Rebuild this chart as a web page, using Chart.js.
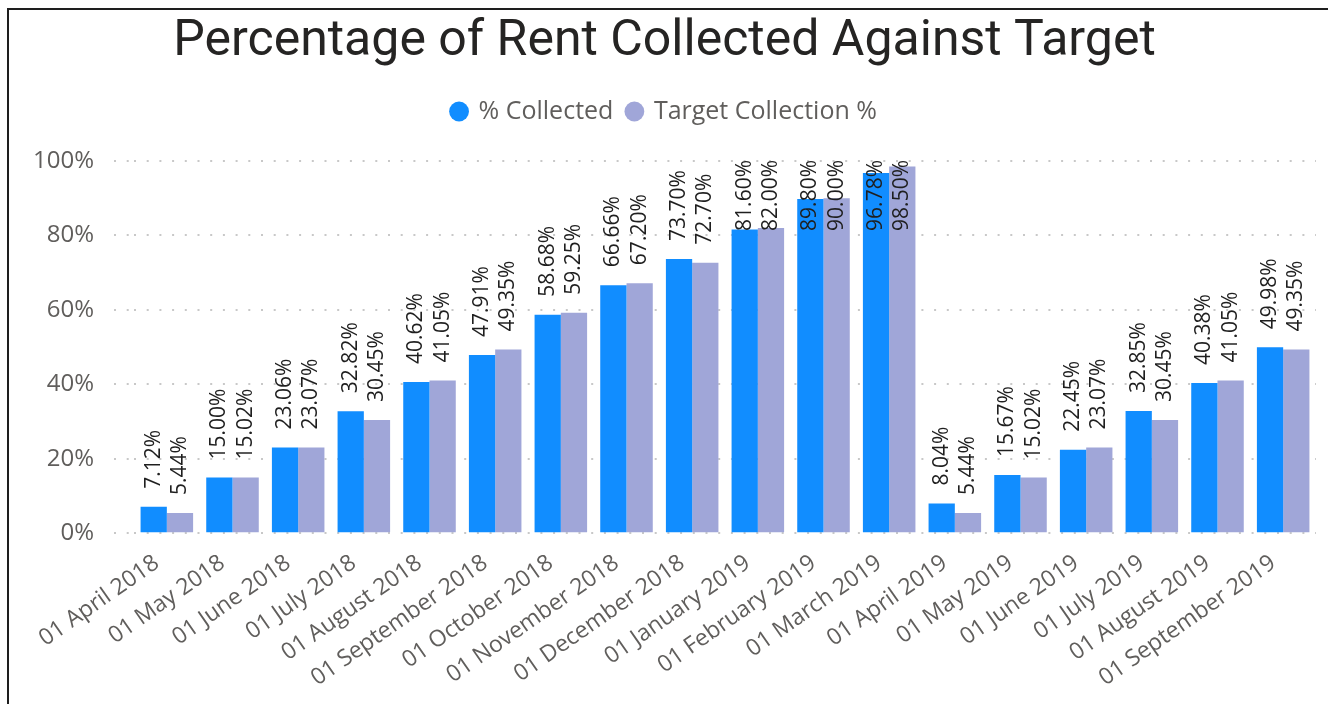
<!DOCTYPE html>
<html>
<head>
<meta charset="utf-8">
<script src="https://cdn.jsdelivr.net/npm/chart.js@4"></script>
<style>
  html, body { margin: 0; padding: 0; background: #fff; overflow: hidden; }
  #wrap { position: relative; width: 1328px; height: 704px; }
  #frame { position: absolute; left: 7px; top: 8px; right: -20px; bottom: -20px;
           border-left: 2px solid #1e1e1e; border-top: 2px solid #1e1e1e; pointer-events: none; }
  canvas { position: absolute; left: 0; top: 0; }
</style>
</head>
<body>
<div id="wrap">
  <div id="frame"></div>
  <canvas id="myChart" width="1328" height="704"></canvas>
</div>
<script>
const months = [
  "01 April 2018", "01 May 2018", "01 June 2018", "01 July 2018", "01 August 2018",
  "01 September 2018", "01 October 2018", "01 November 2018", "01 December 2018",
  "01 January 2019", "01 February 2019", "01 March 2019", "01 April 2019",
  "01 May 2019", "01 June 2019", "01 July 2019", "01 August 2019", "01 September 2019"
];
const collected = [7.12, 15.00, 23.06, 32.82, 40.62, 47.91, 58.68, 66.66, 73.70,
  81.60, 89.80, 96.78, 8.04, 15.67, 22.45, 32.85, 40.38, 49.98];
const target = [5.44, 15.02, 23.07, 30.45, 41.05, 49.35, 59.25, 67.20, 72.70,
  82.00, 90.00, 98.50, 5.44, 15.02, 23.07, 30.45, 41.05, 49.35];
const yTicks = [0, 20, 40, 60, 80, 100];

const gray = "#605E5C";
const dots = [2, 10.7];
const ctx = document.getElementById("myChart").getContext("2d");

// rotated value labels above each bar, pushed down when they'd run off the top
const barLabels = {
  id: "barLabels",
  afterDatasetsDraw(chart) {
    const { ctx, chartArea } = chart;
    ctx.save();
    ctx.font = '21px "Open Sans"';
    ctx.fillStyle = "#1f1f1f";
    ctx.textAlign = "left";
    ctx.textBaseline = "middle";
    chart.data.datasets.forEach((ds, i) => {
      chart.getDatasetMeta(i).data.forEach((bar, j) => {
        const text = ds.data[j].toFixed(2) + "%";
        const w = ctx.measureText(text).width;
        let bottom = bar.y - 18;
        if (bottom - w < chartArea.top - 1) bottom = chartArea.top - 1 + w;
        ctx.save();
        ctx.translate(bar.x, bottom);
        ctx.rotate(-Math.PI / 2);
        ctx.fillText(text, 0, 0);
        ctx.restore();
      });
    });
    ctx.restore();
  }
};

// extra room under the legend
const legendGap = {
  id: "legendGap",
  beforeInit(chart) {
    const fit = chart.legend.fit;
    chart.legend.fit = function () {
      fit.bind(chart.legend)();
      this.height += 27;
    };
  }
};

const myChart = new Chart(ctx, {
  type: "bar",
  data: {
    labels: months,
    datasets: [
      { label: "% Collected", data: collected, backgroundColor: "#118DFF",
        categoryPercentage: 0.8, barPercentage: 1.0 },
      { label: "Target Collection %", data: target, backgroundColor: "#A0A6D8",
        categoryPercentage: 0.8, barPercentage: 1.0 }
    ]
  },
  options: {
    responsive: false,
    animation: false,
    layout: { padding: { left: 13, right: 12, top: 6, bottom: 4 } },
    plugins: {
      title: {
        display: true,
        text: "Percentage of Rent Collected Against Target",
        color: "#252423",
        font: { family: "Roboto", size: 50, weight: "normal" },
        padding: { top: 6, bottom: 13 }
      },
      legend: {
        display: true,
        labels: {
          usePointStyle: true,
          pointStyle: "circle",
          boxWidth: 14,
          boxHeight: 14,
          color: gray,
          font: { family: "Open Sans", size: 25 },
          padding: 14
        }
      },
      tooltip: { enabled: false }
    },
    scales: {
      x: {
        grid: { display: false },
        border: { display: false },
        ticks: {
          color: gray,
          font: { family: "Open Sans", size: 23 },
          minRotation: 35,
          maxRotation: 35,
          autoSkip: false,
          padding: 8,
          labelOffset: -10
        }
      },
      y: {
        min: 0,
        max: 100,
        afterBuildTicks: (axis) => { axis.ticks = yTicks.map(v => ({ value: v })); },
        border: { display: false, dash: dots },
        grid: {
          color: "#C8C8C8",
          lineWidth: 2,
          tickLength: 20,
          tickColor: "#C8C8C8",
          tickWidth: 2,
          tickBorderDash: dots
        },
        ticks: {
          color: gray,
          font: { family: "Open Sans", size: 24 },
          padding: 20,
          callback: (v) => v + "%"
        }
      }
    }
  },
  plugins: [barLabels, legendGap]
});
</script>
</body>
</html>
